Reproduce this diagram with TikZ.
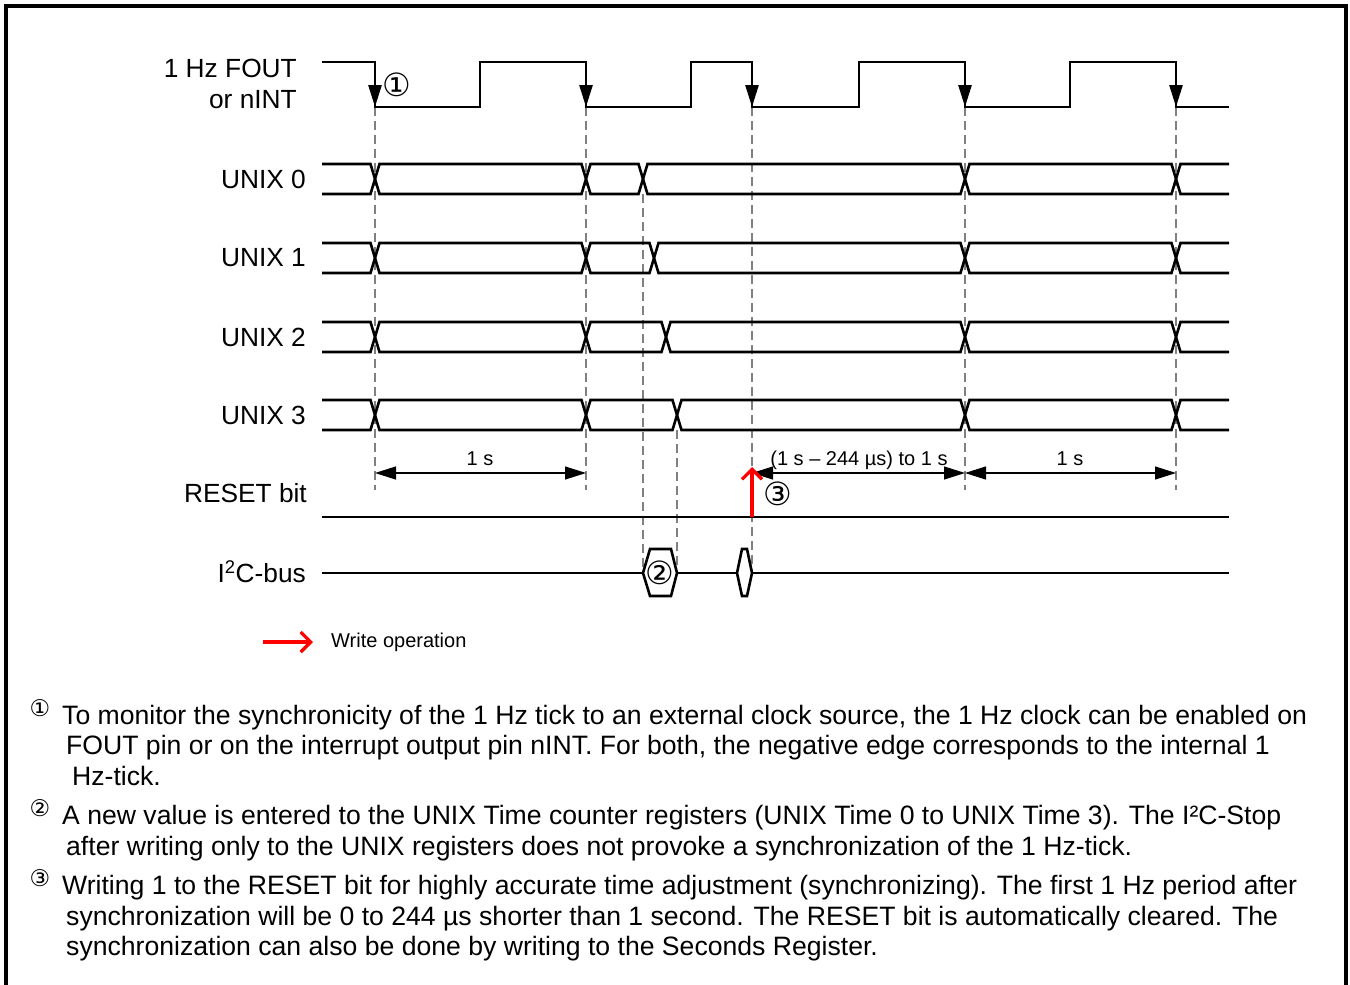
\documentclass[tikz,border=0pt]{standalone}
\usepackage{fontspec}
\setmainfont{Liberation Sans}
\newfontfamily\circfont{DejaVu Sans}
\usetikzlibrary{arrows.meta}

\tikzset{
  sig/.style={line width=2.6pt},
  guide/.style={gray, line width=1.3pt, dash pattern=on 9pt off 5pt},
  dimline/.style={line width=1.2pt, {Triangle[length=21pt,width=13pt]}-{Triangle[length=21pt,width=13pt]}},
  wrarrow/.style={red, line width=3.2pt, -{Straight Barb[length=10pt,width=20pt]}},
  siglabel/.style={font=\fontsize{26.3}{31}\selectfont, anchor=east, inner sep=0pt},
  dimlabel/.style={font=\fontsize{20}{23}\selectfont, anchor=base, inner sep=0pt},
  circnum/.style={font=\circfont\fontsize{32}{32}\selectfont, inner sep=0pt},
  notenum/.style={font=\circfont\fontsize{23}{23}\selectfont, inner sep=0pt},
  note/.style={font=\fontsize{26.6}{30}\selectfont, anchor=base west, inner sep=0pt}
}

\begin{document}
\begin{tikzpicture}[x=1pt, y=-1pt]
  \useasboundingbox (0,0) rectangle (1350,985);
  % frame
  \draw[line width=4pt] (6,985) -- (6,6) -- (1346,6) -- (1346,985);

  % guide lines
  \foreach \x in {375,586,965,1176}
    \draw[guide] (\x,107) -- (\x,490);
  \draw[guide] (752,107) -- (752,573);
  \draw[guide] (643,194) -- (643,573);
  \draw[guide] (677,430) -- (677,573);

  % labels
  \node[siglabel, align=right] (lfout) at (297,84) {1 Hz FOUT\\or nINT};
  \node[siglabel] (lu0) at (306,179) {UNIX 0};
  \node[siglabel] (lu1) at (306,258) {UNIX 1};
  \node[siglabel] (lu2) at (306,337) {UNIX 2};
  \node[siglabel] (lu3) at (306,415) {UNIX 3};
  \node[siglabel] (lrst) at (307,493) {RESET bit};
  \node[siglabel] (li2c) at (306,572) {I\textsuperscript{2}C-bus};

  % 1 Hz clock
  \draw[sig] (322,62) -- (375,62) -- (375,107) -- (480,107) -- (480,62)
    -- (586,62) -- (586,107) -- (691,107) -- (691,62) -- (752,62)
    -- (752,107) -- (859,107) -- (859,62) -- (965,62) -- (965,107)
    -- (1070,107) -- (1070,62) -- (1176,62) -- (1176,107) -- (1229,107);
  \foreach \x in {375,586,752,965,1176}
    \draw[sig, -{Triangle[length=22pt,width=13pt]}] (\x,80) -- (\x,107);
  \node[circnum] (c1) at (397,85) {①};

  % UNIX time registers
  \foreach \c/\s in {179/643, 258/654, 337/666, 415/677} {
    \draw[sig] (322,\c-15) -- (370.5,\c-15) -- (375,\c) -- (370.5,\c+15) -- (322,\c+15);
    \foreach \a/\b in {375/586, 586/\s, \s/965, 965/1176}
      \draw[sig] (\a,\c) -- (\a+4.5,\c-15) -- (\b-4.5,\c-15) -- (\b,\c)
        -- (\b-4.5,\c+15) -- (\a+4.5,\c+15) -- cycle;
    \draw[sig] (1229,\c-15) -- (1180.5,\c-15) -- (1176,\c) -- (1180.5,\c+15) -- (1229,\c+15);
  }

  % periods
  \draw[dimline] (375,473) -- (586,473);
  \draw[dimline] (752,473) -- (965,473);
  \draw[dimline] (965,473) -- (1176,473);
  \node[dimlabel] (p1) at (480,465) {1 s};
  \node[dimlabel] (p2) at (859,465) {(1 s – 244 µs) to 1 s};
  \node[dimlabel] (p3) at (1070,465) {1 s};

  % RESET bit
  \draw[sig] (322,517) -- (1229,517);
  \draw[wrarrow] (752,517) -- (752,467);
  \node[circnum] (c3) at (778,494) {③};

  % I2C-bus
  \draw[sig] (322,573) -- (643,573);
  \draw[sig] (643,573) -- (650,549) -- (671,549) -- (677,573) -- (671,596) -- (650,596) -- cycle;
  \node[circnum] (c2) at (660,573) {②};
  \draw[sig] (677,573) -- (737,573);
  \draw[sig] (737,573) -- (742,549) -- (747,549) -- (752,573) -- (747,596) -- (742,596) -- cycle;
  \draw[sig] (752,573) -- (1229,573);

  % legend
  \draw[wrarrow] (263,642) -- (313,642);
  \node[font=\fontsize{20}{23}\selectfont, anchor=west, inner sep=0pt] (lwr) at (331,642) {Write operation};

  % notes
  \node[notenum] (n1) at (40,708) {①};
  \node[note] (n1a) at (62,724) {To monitor the synchronicity of the 1 Hz tick to an external clock source, the 1 Hz clock can be enabled on};
  \node[note] (n1b) at (66,754) {FOUT pin or on the interrupt output pin nINT. For both, the negative edge corresponds to the internal 1};
  \node[note] (n1c) at (72,785) {Hz-tick.};
  \node[notenum] (n2) at (40,808) {②};
  \node[note] (n2a) at (62,824) {A new value is entered to the UNIX Time counter registers (UNIX Time 0 to UNIX Time 3). The I²C-Stop};
  \node[note] (n2b) at (66,855) {after writing only to the UNIX registers does not provoke a synchronization of the 1 Hz-tick.};
  \node[notenum] (n3) at (40,878) {③};
  \node[note] (n3a) at (62,894) {Writing 1 to the RESET bit for highly accurate time adjustment (synchronizing). The first 1 Hz period after};
  \node[note] (n3b) at (66,925) {synchronization will be 0 to 244 µs shorter than 1 second. The RESET bit is automatically cleared. The};
  \node[note] (n3c) at (66,955) {synchronization can also be done by writing to the Seconds Register.};
\end{tikzpicture}
\end{document}
